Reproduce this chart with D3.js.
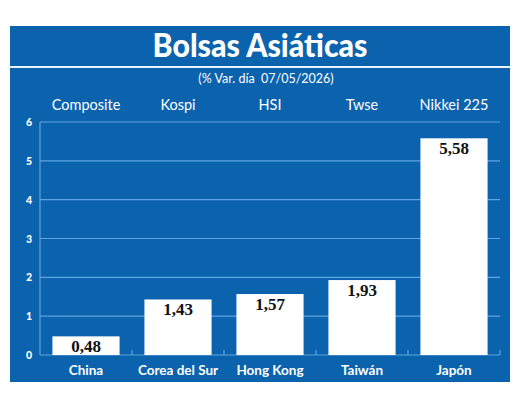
<!DOCTYPE html>
<html>
<head>
<meta charset="utf-8">
<script src="https://cdn.jsdelivr.net/npm/d3@7"></script>
<style>
  body { margin: 0; background: #fff; }
  svg { display: block; }
</style>
</head>
<body>
<div id="chart"></div>
<script>
// data
var countries = ["China", "Corea del Sur", "Hong Kong", "Taiwán", "Japón"];
var indexes = ["Composite", "Kospi", "HSI", "Twse", "Nikkei 225"];
var values = [0.48, 1.43, 1.57, 1.93, 5.58];
var yTicks = [0, 1, 2, 3, 4, 5, 6];
var title = "Bolsas Asiáticas";
var subtitle = "(% Var. día  07/05/2026)";

var W = 520, H = 405;
var blue = "#0b62ad", grid = "#5ea3e2";

var svg = d3.select("#chart").append("svg")
  .attr("width", W).attr("height", H);

// background panels
svg.append("rect").attr("x", 10).attr("y", 26).attr("width", 500).attr("height", 356)
  .attr("fill", blue);
svg.append("rect").attr("x", 10).attr("y", 66).attr("width", 500).attr("height", 2)
  .attr("fill", "#e9f1f9");

// title
svg.append("text").attr("x", 260).attr("y", 57)
  .attr("text-anchor", "middle")
  .attr("fill", "#fff")
  .attr("font-family", "Lato, sans-serif").attr("font-weight", 900)
  .attr("font-size", 32)
  .attr("textLength", 215).attr("lengthAdjust", "spacingAndGlyphs")
  .text(title);

svg.append("text").attr("x", 266).attr("y", 83)
  .attr("text-anchor", "middle")
  .attr("fill", "#fff")
  .style("white-space", "pre")
  .attr("font-family", "Lato, sans-serif")
  .attr("font-size", 12.5)
  .text(subtitle);

// scales
var x = d3.scaleBand()
  .domain(countries)
  .range([40, 500])
  .paddingInner(0.27)
  .paddingOuter(0.135);

var y = d3.scaleLinear()
  .domain([0, 6])
  .range([355, 122]);

// gridlines
svg.append("g").selectAll("line")
  .data(yTicks.filter(function(d){ return d > 0; }))
  .enter().append("line")
  .attr("x1", 40).attr("x2", 500)
  .attr("y1", function(d){ return y(d); })
  .attr("y2", function(d){ return y(d); })
  .attr("stroke", grid).attr("stroke-width", 1.2);

// y axis line + baseline
svg.append("line").attr("x1", 40).attr("x2", 40)
  .attr("y1", y(6)).attr("y2", y(0))
  .attr("stroke", grid).attr("stroke-width", 1.2);
svg.append("line").attr("x1", 40).attr("x2", 500)
  .attr("y1", y(0)).attr("y2", y(0))
  .attr("stroke", grid).attr("stroke-width", 1.2);

// small ticks between categories
var step = x.step();
svg.append("g").selectAll("line")
  .data(countries)
  .enter().append("line")
  .attr("x1", function(d){ return x(d) + x.bandwidth() + (step - x.bandwidth()) / 2; })
  .attr("x2", function(d){ return x(d) + x.bandwidth() + (step - x.bandwidth()) / 2; })
  .attr("y1", y(0)).attr("y2", y(0) - 5)
  .attr("stroke", grid).attr("stroke-width", 1.2);

// y tick labels
svg.append("g").selectAll("text")
  .data(yTicks)
  .enter().append("text")
  .attr("x", 29).attr("y", function(d){ return y(d) + 4; })
  .attr("text-anchor", "middle")
  .attr("fill", "#fff")
  .attr("font-family", "Lato, sans-serif").attr("font-weight", 900)
  .attr("font-size", 10.5)
  .text(function(d){ return d; });

// bars
svg.append("g").selectAll("rect")
  .data(values)
  .enter().append("rect")
  .attr("x", function(d, i){ return x(countries[i]); })
  .attr("y", function(d){ return y(d); })
  .attr("width", x.bandwidth())
  .attr("height", function(d){ return y(0) - y(d); })
  .attr("fill", "#fff");

// value labels
svg.append("g").selectAll("text")
  .data(values)
  .enter().append("text")
  .attr("x", function(d, i){ return x(countries[i]) + x.bandwidth() / 2; })
  .attr("y", function(d){ return y(d) + 16; })
  .attr("text-anchor", "middle")
  .attr("fill", "#111")
  .attr("font-family", "'Liberation Serif', 'DejaVu Serif', serif").attr("font-weight", 700)
  .attr("font-size", 17)
  .text(function(d){ return d.toFixed(2).replace(".", ","); });

// index names on top
svg.append("g").selectAll("text")
  .data(indexes)
  .enter().append("text")
  .attr("x", function(d, i){ return x(countries[i]) + x.bandwidth() / 2; })
  .attr("y", 110)
  .attr("text-anchor", "middle")
  .attr("fill", "#fff")
  .attr("font-family", "Lato, sans-serif")
  .attr("font-size", 14.5)
  .text(function(d){ return d; });

// country names at bottom
svg.append("g").selectAll("text")
  .data(countries)
  .enter().append("text")
  .attr("x", function(d){ return x(d) + x.bandwidth() / 2; })
  .attr("y", 375)
  .attr("text-anchor", "middle")
  .attr("fill", "#fff")
  .attr("font-family", "Lato, sans-serif").attr("font-weight", 700)
  .attr("font-size", 13.5)
  .text(function(d){ return d; });
</script>
</body>
</html>
